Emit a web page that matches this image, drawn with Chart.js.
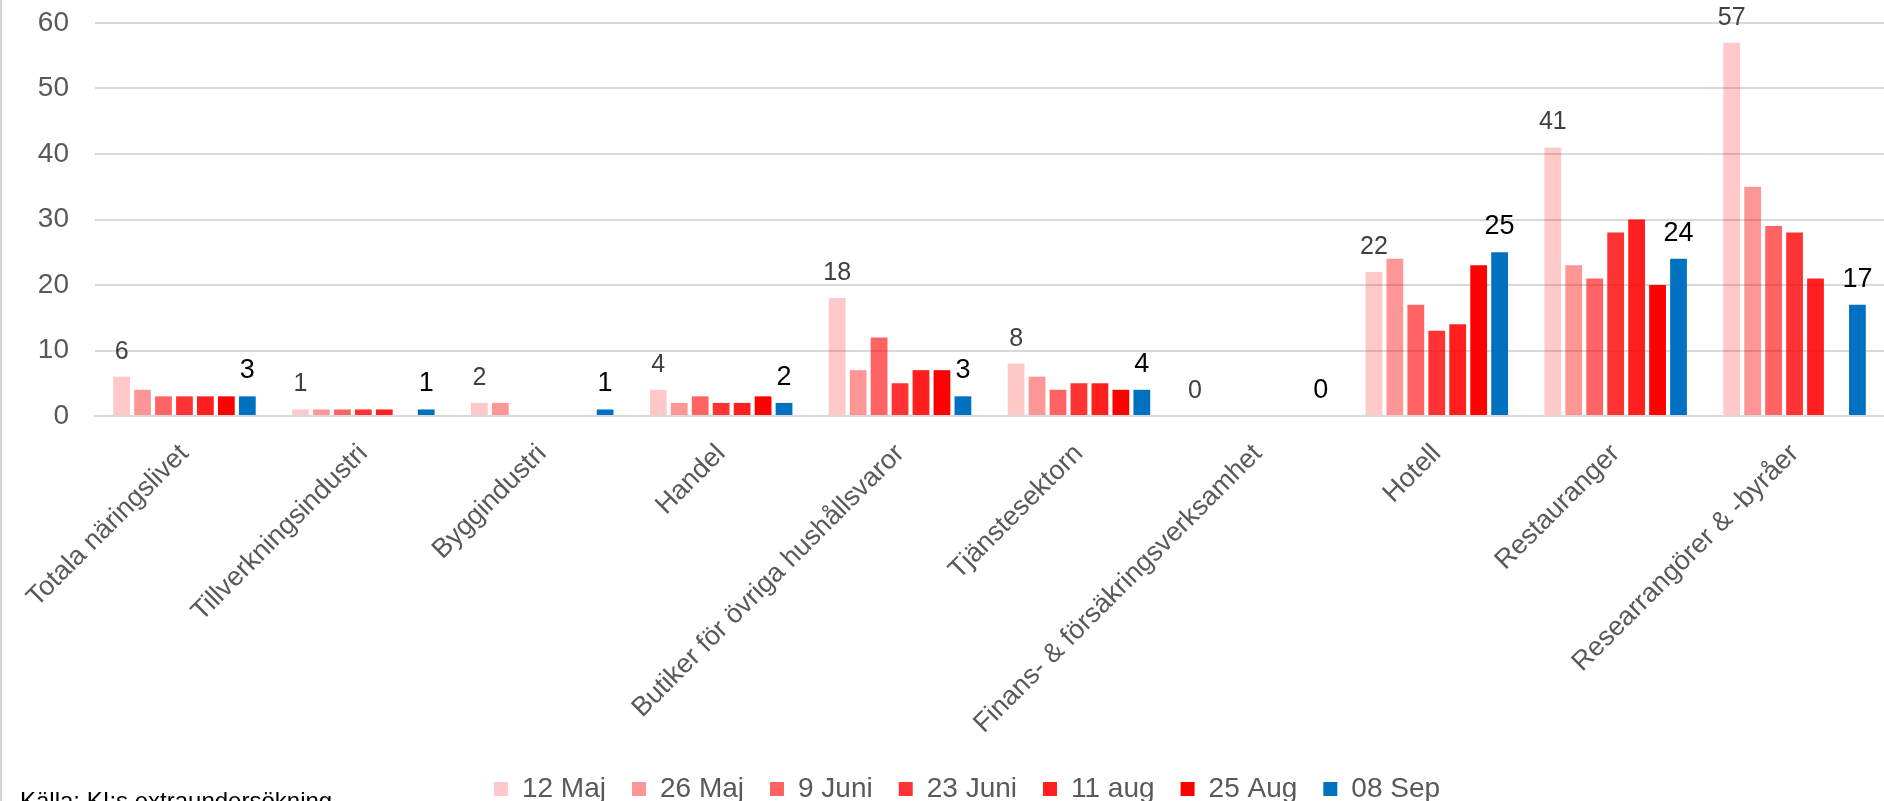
<!DOCTYPE html>
<html><head><meta charset="utf-8">
<script src="https://cdn.jsdelivr.net/npm/chart.js@4.4.1/dist/chart.umd.min.js"></script>
<style>html,body{margin:0;padding:0;background:#fff;overflow:hidden}#wrap{width:1884px;height:801px;position:relative}</style>
</head><body><div id="wrap"><canvas id="c" width="1884" height="801"></canvas></div>
<script>
const categories = ['Totala näringslivet','Tillverkningsindustri','Byggindustri','Handel','Butiker för övriga hushållsvaror','Tjänstesektorn','Finans- & försäkringsverksamhet','Hotell','Restauranger','Researrangörer & -byråer'];
const seriesNames = ['12 Maj','26 Maj','9 Juni','23 Juni','11 aug','25 Aug','08 Sep'];
const s12Maj  = [6, 1, 2, 4, 18, 8, 0, 22, 41, 57];
const s26Maj  = [4, 1, 2, 2, 7, 6, 0, 24, 23, 35];
const s9Juni  = [3, 1, 0, 3, 12, 4, 0, 17, 21, 29];
const s23Juni = [3, 1, 0, 2, 5, 5, 0, 13, 28, 28];
const s11aug  = [3, 1, 0, 2, 7, 5, 0, 14, 30, 21];
const s25Aug  = [3, 0, 0, 3, 7, 4, 0, 23, 20, 0];
const s08Sep  = [3, 1, 1, 2, 3, 4, 0, 25, 24, 17];
const yTicks = [0, 10, 20, 30, 40, 50, 60];
const sourceText = 'Källa: KI:s extraundersökning';

const seriesValues = [s12Maj, s26Maj, s9Juni, s23Juni, s11aug, s25Aug, s08Sep];
const colors = ['rgba(255,0,0,0.21)','rgba(255,0,0,0.41)','rgba(255,0,0,0.61)','rgba(255,0,0,0.80)','rgba(255,0,0,0.88)','rgba(255,0,0,1)','#0070c0'];
const FONT = "'Liberation Sans', Arial, sans-serif";

const labelPlugin = {
  id: 'labels',
  afterLayout(chart) {
    if (chart.legend) chart.legend.left += 50;
  },
  beforeDraw(chart) {
    const ctx = chart.ctx;
    ctx.save();
    ctx.fillStyle = '#d4d4d4';
    ctx.fillRect(0, 0, 2, chart.height);
    ctx.restore();
  },
  afterDatasetsDraw(chart) {
    const ctx = chart.ctx;
    ctx.save();
    ctx.textAlign = 'center';
    ctx.textBaseline = 'alphabetic';
    [[0, '#404040', 25], [6, '#000000', 27]].forEach(([di, col, fs]) => {
      const meta = chart.getDatasetMeta(di);
      ctx.fillStyle = col;
      ctx.font = fs + 'px ' + FONT;
      meta.data.forEach((bar, i) => {
        ctx.fillText(String(seriesValues[di][i]), bar.x, bar.y - 18);
      });
    });
    ctx.restore();
  },
  afterDraw(chart) {
    const ctx = chart.ctx;
    ctx.save();
    ctx.fillStyle = '#000';
    ctx.font = '24px ' + FONT;
    ctx.textAlign = 'left';
    ctx.textBaseline = 'alphabetic';
    ctx.fillText(sourceText, 20, 809);
    ctx.restore();
  }
};

new Chart(document.getElementById('c'), {
  type: 'bar',
  data: {
    labels: categories,
    datasets: seriesNames.map((n, i) => ({
      label: n,
      data: seriesValues[i],
      backgroundColor: colors[i],
      borderWidth: 0,
      categoryPercentage: 0.82,
      barPercentage: 0.8
    }))
  },
  options: {
    responsive: false,
    animation: false,
    layout: { padding: { top: 23, left: 0, right: 0, bottom: -12 } },
    plugins: {
      tooltip: { enabled: false },
      legend: {
        position: 'bottom',
        labels: {
          boxWidth: 14, boxHeight: 14, padding: 26,
          color: '#595959',
          font: { family: FONT, size: 28 }
        }
      }
    },
    scales: {
      x: {
        grid: { display: false, drawTicks: false },
        border: { display: true, color: '#d9d9d9', width: 2 },
        ticks: {
          color: '#595959', font: { family: FONT, size: 27 },
          minRotation: 45, maxRotation: 45, autoSkip: false, padding: 22
        },
        afterFit(s) { s.height = 333; }
      },
      y: {
        min: 0, max: 60,
        afterBuildTicks(s) { s.ticks = yTicks.map(v => ({ value: v })); },
        grid: { color: '#d9d9d9', lineWidth: 2, drawTicks: false },
        border: { display: false },
        ticks: { color: '#595959', font: { family: FONT, size: 28 }, padding: 26 },
        afterFit(s) { s.width = 95; s.paddingTop = 0; s.paddingBottom = 0; }
      }
    }
  },
  plugins: [labelPlugin]
});
</script>
</body></html>
